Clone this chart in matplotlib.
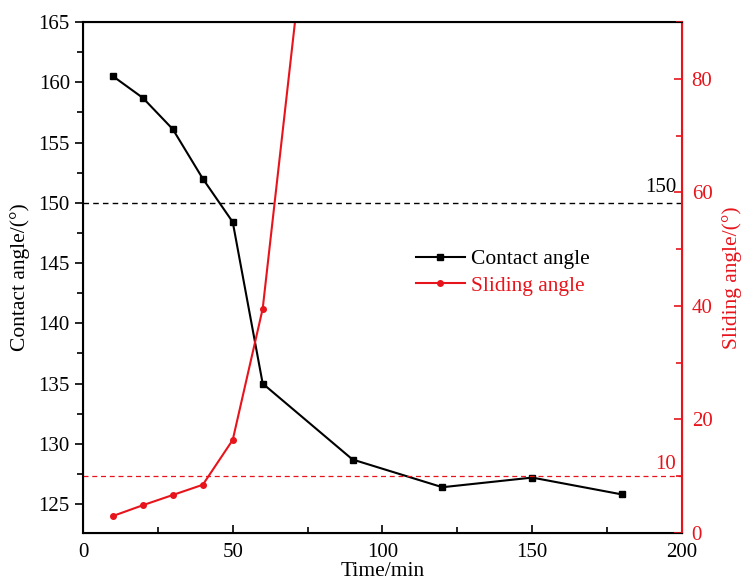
import numpy as np
import matplotlib.pyplot as plt
from matplotlib.ticker import MultipleLocator

plt.rcParams['font.family'] = ['Liberation Serif', 'DejaVu Serif']
plt.rcParams['font.size'] = 15

time_ca = [10, 20, 30, 40, 50, 60, 90, 120, 150, 180]
contact_angle = [160.5, 158.7, 156.1, 152.0, 148.4, 135.0, 128.7, 126.4, 127.2, 125.8]
time_sa = [10, 20, 30, 40, 50, 60, 90]
sliding_angle = [3.0, 4.9, 6.7, 8.5, 16.4, 39.5, 180]

red = '#e8141c'

fig = plt.figure(figsize=(7.45, 5.86), dpi=100)
ax = fig.add_axes([0.1114, 0.0904, 0.804, 0.8721])
ax2 = ax.twinx()

l1, = ax.plot(time_ca, contact_angle, color='black', lw=1.5, marker='s', ms=4, label='Contact angle')
ax.axhline(150, color='black', ls='--', lw=1.0, dashes=(4, 3))
ax.set_xlim(0, 200)
ax.set_ylim(122.6, 165)
ax.xaxis.set_major_locator(MultipleLocator(50))
ax.xaxis.set_minor_locator(MultipleLocator(25))
ax.yaxis.set_major_locator(MultipleLocator(5))
ax.yaxis.set_minor_locator(MultipleLocator(2.5))
ax.tick_params(axis='x', which='both', direction='in', labelsize=15, pad=7)
ax.tick_params(axis='x', which='major', length=6, width=1.2)
ax.tick_params(axis='x', which='minor', length=4, width=1.2)
ax.tick_params(axis='y', which='both', direction='out', labelsize=15)
ax.tick_params(axis='y', which='major', length=6, width=1.2)
ax.tick_params(axis='y', which='minor', length=4, width=1.2)
ax.set_xlabel('Time/min', fontsize=15.5, labelpad=0)
ax.set_ylabel('Contact angle/(°)', fontsize=15.5, labelpad=6)
for s in ['left', 'bottom', 'top']:
    ax.spines[s].set_linewidth(1.5)

l2, = ax2.plot(time_sa, sliding_angle, color=red, lw=1.5, marker='o', ms=4, label='Sliding angle')
ax2.axhline(10, color=red, ls='--', lw=0.9, dashes=(4, 3))
ax2.set_ylim(0, 90)
ax2.yaxis.set_major_locator(MultipleLocator(20))
ax2.yaxis.set_minor_locator(MultipleLocator(10))
ax2.tick_params(axis='y', which='both', direction='in', colors=red, labelsize=15, width=1.2, pad=7)
ax2.tick_params(axis='y', which='major', length=6)
ax2.tick_params(axis='y', which='minor', length=4)
ax2.spines['right'].set_color(red)
ax2.spines['right'].set_linewidth(1.5)
ax2.set_ylabel('Sliding angle/(°)', color=red, fontsize=15.5, labelpad=7)

ax.text(0.99, 150.5, '150', transform=ax.get_yaxis_transform(), ha='right', va='bottom', fontsize=15)
ax2.text(0.99, 10.4, '10', transform=ax2.get_yaxis_transform(), ha='right', va='bottom', fontsize=15, color=red)

leg = ax.legend([l1, l2], ['Contact angle', 'Sliding angle'], loc='upper left',
                bbox_to_anchor=(0.53, 0.585), frameon=False, fontsize=15.5,
                handlelength=2.3, handletextpad=0.3, borderpad=0.2, labelspacing=0.3)
leg.get_texts()[1].set_color(red)

plt.savefig('out.png', dpi=100)
